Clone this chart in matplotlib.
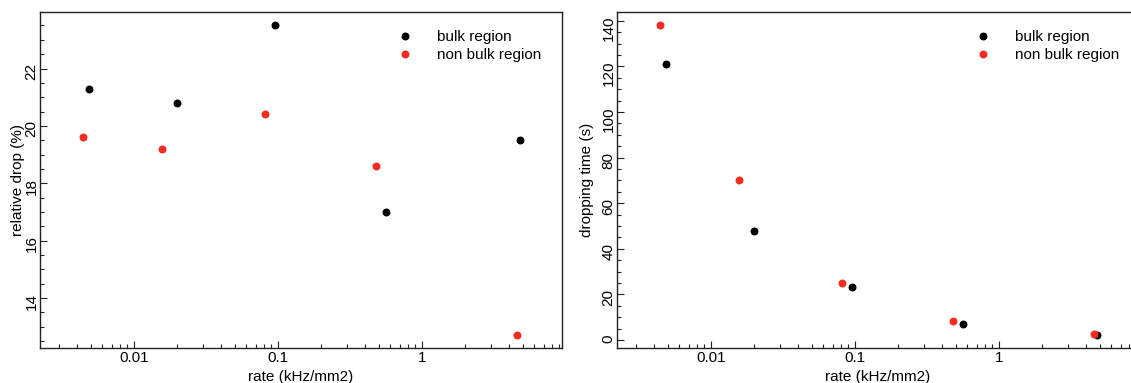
import matplotlib
matplotlib.use("Agg")
import matplotlib.pyplot as plt
from matplotlib.ticker import LogLocator, FixedLocator, MultipleLocator, FuncFormatter, NullFormatter

plt.rcParams['font.family'] = ['Liberation Sans', 'DejaVu Sans']

# rate (kHz/mm2) for the two regions
rate_bulk = [0.0049, 0.0198, 0.095, 0.567, 4.79]
rate_nonbulk = [0.00442, 0.0157, 0.0811, 0.476, 4.57]

# relative drop (%)
drop_bulk = [21.30, 20.81, 23.51, 17.00, 19.51]
drop_nonbulk = [19.60, 19.21, 20.40, 18.60, 12.70]

# dropping time (s)
time_bulk = [121.2, 48.0, 23.1, 7.15, 2.0]
time_nonbulk = [138.1, 70.1, 25.1, 8.5, 2.6]

RED = '#f52b1f'
W, H = 1131, 383

fig = plt.figure(figsize=(W / 100, H / 100), dpi=100)
ax1 = fig.add_axes([40 / W, 1 - 348 / H, 522 / W, 336 / H])
ax2 = fig.add_axes([617 / W, 1 - 348 / H, 522 / W, 336 / H])


def style_axis(ax, ylim, ymajor, yminor):
    ax.set_xscale('log')
    ax.set_xlim(0.00222, 9.4)
    ax.set_ylim(*ylim)
    ax.xaxis.set_major_locator(FixedLocator([0.01, 0.1, 1]))
    ax.xaxis.set_major_formatter(FuncFormatter(lambda v, p: {0.01: '0.01', 0.1: '0.1', 1: '1'}.get(round(v, 3), '')))
    ax.xaxis.set_minor_locator(LogLocator(base=10, subs=range(2, 10)))
    ax.xaxis.set_minor_formatter(NullFormatter())
    ax.yaxis.set_major_locator(MultipleLocator(ymajor))
    ax.yaxis.set_minor_locator(MultipleLocator(yminor))
    ax.tick_params(which='both', direction='in', top=False, right=False, width=0.8, color='#222222')
    ax.tick_params(which='major', length=5, labelsize=11, pad=2)
    ax.tick_params(which='minor', length=2.8)
    ax.tick_params(axis='y', labelrotation=90, pad=1)
    for s in ax.spines.values():
        s.set_linewidth(1.0)
        s.set_color('#222222')


for ax, yb, yn, ylim, ymaj, ymin, ylab, ylx in [
    (ax1, drop_bulk, drop_nonbulk, (12.26, 23.97), 2, 0.5, 'relative drop (%)', -0.028),
    (ax2, time_bulk, time_nonbulk, (-3.5, 143.9), 20, 5, 'dropping time (s)', -0.045),
]:
    style_axis(ax, ylim, ymaj, ymin)
    ax.plot(rate_bulk, yb, 'o', color='black', markersize=4.7, label='bulk region')
    ax.plot(rate_nonbulk, yn, 'o', color=RED, markersize=4.7, label='non bulk region')
    ax.set_xlabel('rate (kHz/mm2)', fontsize=11)
    ax.xaxis.set_label_coords(0.5, -0.065)
    ax.set_ylabel(ylab, fontsize=11)
    ax.yaxis.set_label_coords(ylx, 0.5)

ax1.legend(loc='upper left', bbox_to_anchor=(0.685, 0.946), frameon=False, fontsize=11,
           handlelength=1.0, handletextpad=1.59, borderpad=0, borderaxespad=0, labelspacing=0.25)
ax2.legend(loc='upper left', bbox_to_anchor=(0.687, 0.946), frameon=False, fontsize=11,
           handlelength=1.0, handletextpad=1.59, borderpad=0, borderaxespad=0, labelspacing=0.25)

fig.savefig('out.png', dpi=100)
